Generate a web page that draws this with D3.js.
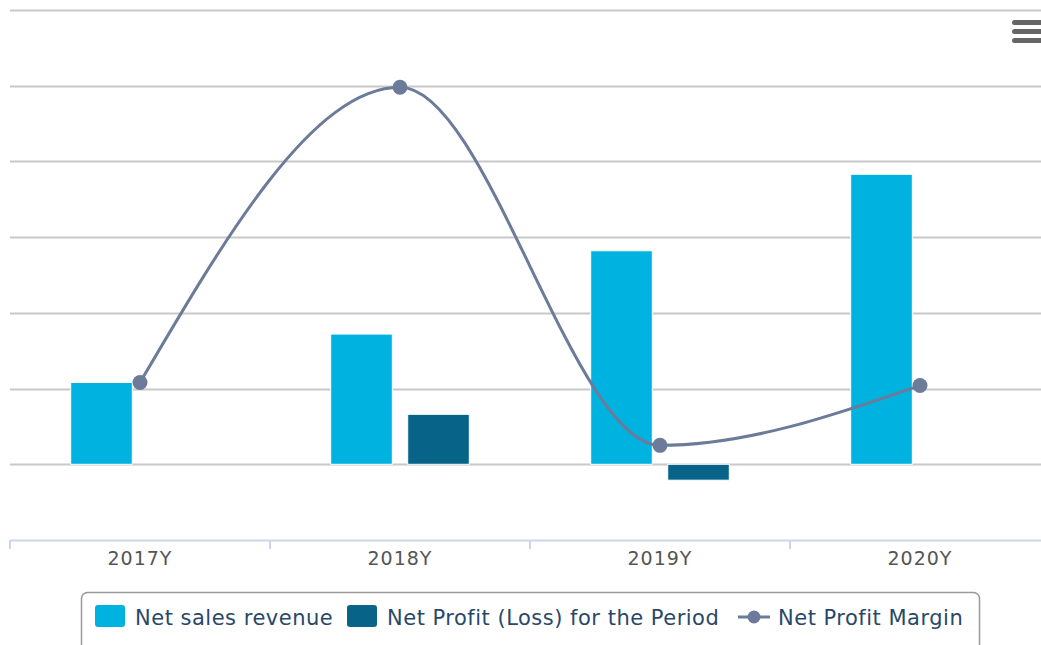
<!DOCTYPE html>
<html><head><meta charset="utf-8">
<script src="https://cdn.jsdelivr.net/npm/d3@7"></script>
<style>html,body{margin:0;padding:0;background:#fff;}svg{display:block;}</style>
</head><body>
<svg id="c" width="1041" height="645"></svg>
<script>
const categories = ["2017Y", "2018Y", "2019Y", "2020Y"];
const netSales = [1080, 1720, 2820, 3830];
const netProfit = [0, 660, -210, 0];
const netMargin = [0.8, 39.8, -7.5, 0.4];
const leftTicks = [-1000, 0, 1000, 2000, 3000, 4000, 5000, 6000];
const seriesNames = ["Net sales revenue", "Net Profit (Loss) for the Period", "Net Profit Margin"];
const colors = ["#00b2df", "#076488", "#6b7b99"];

const svg = d3.select("#c");
const plot = {left: 10, right: 1050, top: 10, bottom: 540};

const x0 = d3.scaleBand().domain(categories).range([plot.left, plot.right]).padding(0);
const x1 = d3.scaleBand().domain([0, 1]).range([-77, 77]).paddingInner(0.2).paddingOuter(0.1);
const yL = d3.scaleLinear().domain([-1000, 6000]).range([plot.bottom, plot.top]);
const yR = d3.scaleLinear().domain([-20, 50]).range([plot.bottom, plot.top]);

// gridlines
svg.append("g").selectAll("line").data(leftTicks.filter(t => t > -1000)).join("line")
  .attr("x1", plot.left).attr("x2", 1041)
  .attr("y1", d => Math.round(yL(d)) + 0.5).attr("y2", d => Math.round(yL(d)) + 0.5)
  .attr("stroke", "#c8c8c8").attr("stroke-width", 2);

// x axis
const xAxis = svg.append("g").attr("transform", `translate(0,${plot.bottom})`)
  .call(d3.axisBottom(x0).tickSize(0).tickPadding(12));
xAxis.select(".domain").attr("stroke", "#ccd6eb").attr("stroke-width", 2);
xAxis.selectAll("text").attr("fill", "#555").attr("font-family", "DejaVu Sans")
  .attr("font-size", 19).attr("letter-spacing", 1);
svg.append("g").selectAll("line").data(categories).join("line")
  .attr("x1", d => x0(d)).attr("x2", d => x0(d))
  .attr("y1", plot.bottom).attr("y2", plot.bottom + 9)
  .attr("stroke", "#ccd6eb").attr("stroke-width", 2);

// bars
const barSeries = [netSales, netProfit];
barSeries.forEach((vals, si) => {
  svg.append("g").selectAll("rect").data(vals.map((v, i) => ({v, c: categories[i]}))).join("rect")
    .filter(d => d.v !== 0)
    .attr("x", d => x0(d.c) + x0.bandwidth() / 2 + x1(si))
    .attr("width", x1.bandwidth())
    .attr("y", d => Math.min(yL(d.v), yL(0)))
    .attr("height", d => Math.abs(yL(d.v) - yL(0)))
    .attr("fill", colors[si]).attr("stroke", "#fff").attr("stroke-width", 1);
});

// line
const pts = netMargin.map((v, i) => [x0(categories[i]) + x0.bandwidth() / 2, yR(v)]);
svg.append("path").datum(pts)
  .attr("d", d3.line().curve(d3.curveMonotoneX))
  .attr("fill", "none").attr("stroke", colors[2]).attr("stroke-width", 3);
svg.append("g").selectAll("circle").data(pts).join("circle")
  .attr("cx", d => d[0]).attr("cy", d => d[1]).attr("r", 7.5).attr("fill", colors[2]);

// menu icon
svg.append("g").selectAll("rect").data([0, 1, 2]).join("rect")
  .attr("x", 1012).attr("y", d => 20 + d * 9).attr("width", 32).attr("height", 5).attr("rx", 2.5)
  .attr("fill", "#666");

// legend
const lg = svg.append("g");
lg.append("rect").attr("x", 81.5).attr("y", 592.5).attr("width", 898).attr("height", 60).attr("rx", 6)
  .attr("fill", "none").attr("stroke", "#999").attr("stroke-width", 1.5);
const items = [
  {name: seriesNames[0], x: 95, type: "bar", color: colors[0]},
  {name: seriesNames[1], x: 347, type: "bar", color: colors[1]},
  {name: seriesNames[2], x: 738, type: "line", color: colors[2]}
];
items.forEach(it => {
  if (it.type === "bar") {
    lg.append("rect").attr("x", it.x).attr("y", 605).attr("width", 30).attr("height", 22).attr("rx", 3).attr("fill", it.color);
  } else {
    lg.append("line").attr("x1", it.x).attr("x2", it.x + 32).attr("y1", 617).attr("y2", 617).attr("stroke", it.color).attr("stroke-width", 3);
    lg.append("circle").attr("cx", it.x + 16).attr("cy", 617).attr("r", 6.5).attr("fill", it.color);
  }
  lg.append("text").attr("x", it.x + 40).attr("y", 625)
    .attr("font-family", "DejaVu Sans").attr("font-size", 21).attr("letter-spacing", 0.5)
    .attr("fill", "#294869").text(it.name);
});
</script>
</body></html>
